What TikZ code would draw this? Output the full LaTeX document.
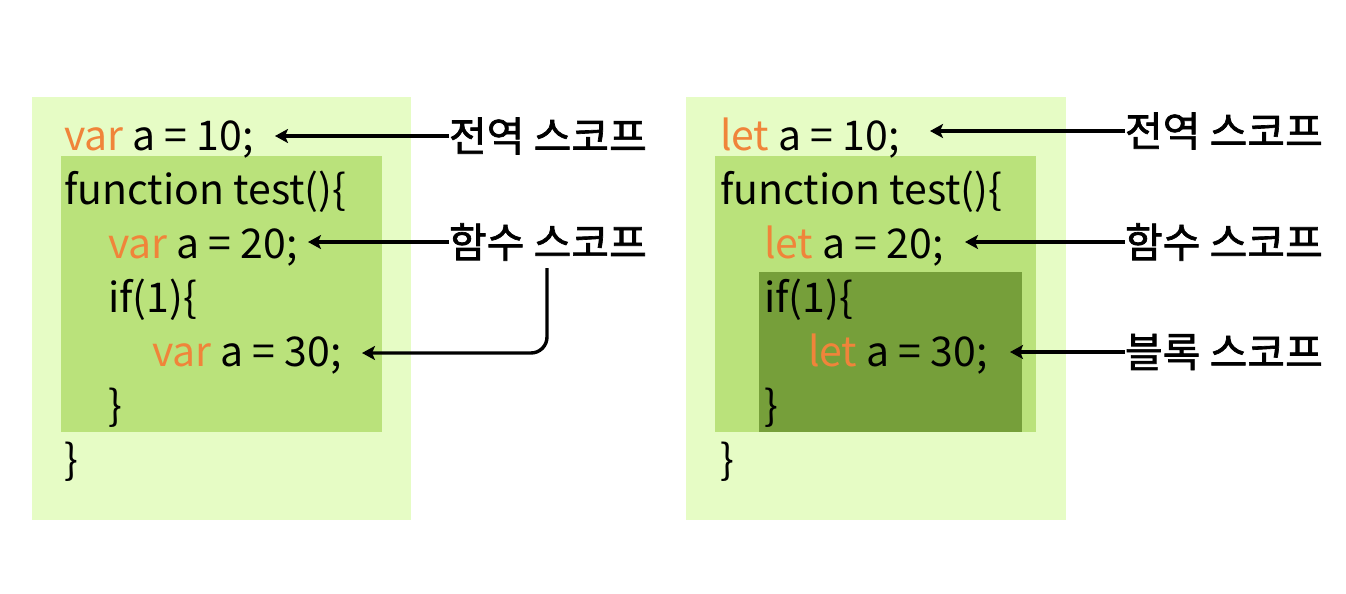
\documentclass[tikz,border=0pt]{standalone}
\usepackage{fontspec}
\setmainfont{Noto Sans CJK KR}
\newfontfamily\lblfont[FakeBold=1.6]{Noto Sans CJK KR}
\usetikzlibrary{arrows.meta}
\definecolor{outerg}{HTML}{E6FCC5}
\definecolor{midg}{HTML}{BAE27B}
\definecolor{darkg}{HTML}{769F3A}
\definecolor{kw}{HTML}{F0843A}
\tikzset{
  code/.style={anchor=base west, inner sep=0pt, outer sep=0pt, font=\fontsize{41}{48}\selectfont},
  lbl/.style={anchor=west, inner sep=0pt, outer sep=0pt, font=\lblfont\fontsize{41}{48}\selectfont},
  arr/.style={line width=3.4pt, -{Stealth[length=13pt,width=14pt,inset=3pt]}},
}
\newcommand{\kwd}[1]{\textcolor{kw}{#1}}
\begin{document}
\begin{tikzpicture}[x=1pt,y=-1pt]
\useasboundingbox (0,0) rectangle (1346,594);
% left panel
\fill[outerg] (32,97) rectangle (411,520);
\fill[midg] (61,156) rectangle (382,432);
\node[code] (l1) at (64,150) {\kwd{var} a = 10;};
\node[code] (l2) at (64,204) {function test()\{};
\node[code] (l3) at (108,258) {\kwd{var} a = 20;};
\node[code] (l4) at (108,312) {if(1)\{};
\node[code] (l5) at (152,366) {\kwd{var} a = 30;};
\node[code] (l6) at (108,420) {\}};
\node[code] (l7) at (64,474) {\}};
\node[lbl] (la) at (449,136) {전역 스코프};
\node[lbl] (lb) at (449,242) {함수 스코프};
\coordinate (ta) at (275,136);
\coordinate (tb) at (308,242);
\coordinate (tc) at (362,353);
\coordinate (bend) at (547,268);
\draw[arr] (la.west) -- (la.west -| ta);
\draw[arr] (lb.west) -- (lb.west -| tb);
\draw[arr, rounded corners=16pt] (bend) -- (bend |- tc) -- (tc);
% right panel
\fill[outerg] (686,97) rectangle (1066,520);
\fill[midg] (715,156) rectangle (1036,432);
\fill[darkg] (759,272) rectangle (1022,432);
\node[code] (r1) at (720,150) {\kwd{let} a = 10;};
\node[code] (r2) at (720,204) {function test()\{};
\node[code] (r3) at (764,258) {\kwd{let} a = 20;};
\node[code] (r4) at (764,312) {if(1)\{};
\node[code] (r5) at (808,366) {\kwd{let} a = 30;};
\node[code] (r6) at (764,420) {\}};
\node[code] (r7) at (720,474) {\}};
\node[lbl] (ra) at (1125,131) {전역 스코프};
\node[lbl] (rb) at (1125,242) {함수 스코프};
\node[lbl] (rc) at (1125,352) {블록 스코프};
\coordinate (sa) at (930,131);
\coordinate (sb) at (965,242);
\coordinate (sc) at (1010,352);
\draw[arr] (ra.west) -- (ra.west -| sa);
\draw[arr] (rb.west) -- (rb.west -| sb);
\draw[arr] (rc.west) -- (rc.west -| sc);
\end{tikzpicture}
\end{document}
